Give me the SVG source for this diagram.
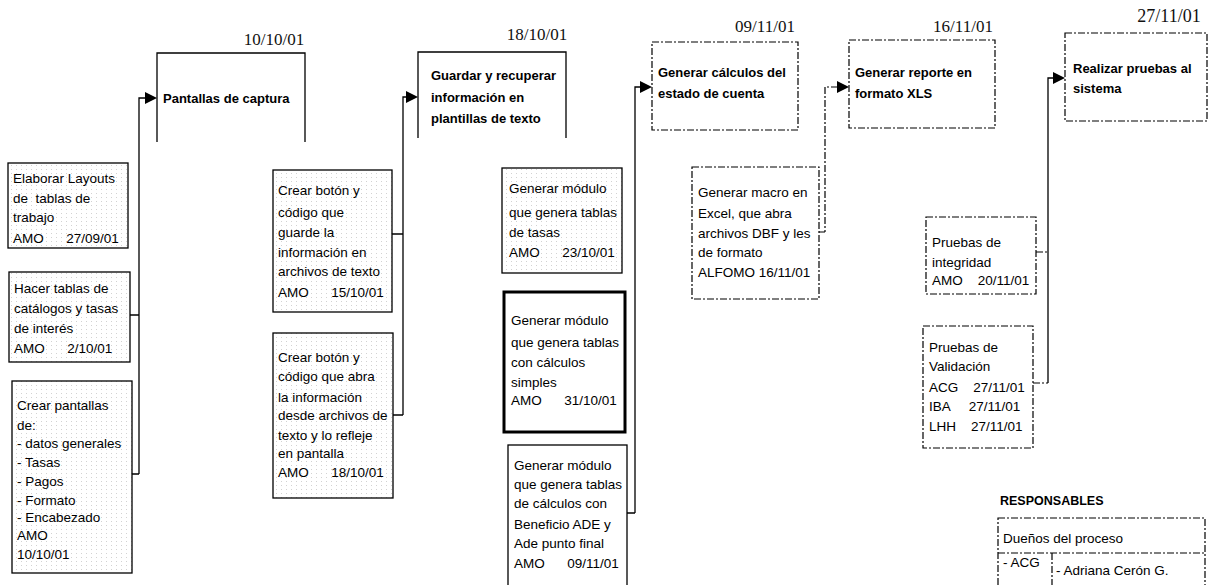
<svg xmlns="http://www.w3.org/2000/svg" width="1208" height="585" viewBox="0 0 1208 585">
<style>
  .date{font-family:"Liberation Serif","Times New Roman",serif;font-size:17px;fill:#111;text-anchor:middle}
  .title{font-family:"Liberation Sans",Arial,sans-serif;font-size:13px;font-weight:bold;fill:#000}
  .t{font-family:"Liberation Sans",Arial,sans-serif;font-size:13.5px;fill:#000}
  .bold{font-weight:bold}
  .solid{fill:none;stroke:#000;stroke-width:1.3}
  .dash{fill:none;stroke:#000;stroke-width:1.2;stroke-dasharray:7 2 2 2}
  .thick{fill:#fff;stroke:#000;stroke-width:3}
  .shade{fill:url(#dots);stroke:#000;stroke-width:1.3}
  .arrow{fill:#000}
</style>
<defs>
  <pattern id="dots" width="5" height="4" patternUnits="userSpaceOnUse">
    <rect width="5" height="4" fill="#fff"/>
    <rect x="1" y="1" width="1" height="1" fill="#d2d2d2"/>
  </pattern>
</defs>
<rect width="1208" height="585" fill="#fff"/>

<g id="connectors">
  <path class="solid" d="M146 98 H139 V474 M130 315 H139 M132 474 H139"/>
  <polygon class="arrow" points="145,92 157,98 145,104"/>
  <path class="solid" d="M407 97 H403 V415 M392 234 H403 M393 415 H403"/>
  <polygon class="arrow" points="406,91 418,97 406,103"/>
  <path class="solid" d="M641 87 H635 V513 M627 513 H635"/>
  <polygon class="arrow" points="640,81 652,87 640,93"/>
  <path class="dash" d="M838 87 H825 V232 M819 232 H825"/>
  <polygon class="arrow" points="837,81 849,87 837,93"/>
  <path class="solid" d="M1054 78 H1048 V383"/>
  <path class="dash" d="M1033 383 H1048 M1036 252 H1048"/>
  <polygon class="arrow" points="1053,72 1065,78 1053,84"/>
</g>

<g id="h1">
  <text class="date" x="274" y="45">10/10/01</text>
  <path class="solid" d="M157 142 V53 H305 V142"/>
  <text class="title" x="163" y="103">Pantallas de captura</text>
</g>
<g id="h2">
  <text class="date" x="537" y="40">18/10/01</text>
  <path class="solid" d="M418 138 V52 H566 V138"/>
  <text class="title" x="431" y="80">Guardar y recuperar</text>
  <text class="title" x="431" y="102">información  en</text>
  <text class="title" x="431" y="123">plantillas de texto</text>
</g>
<g id="h3">
  <text class="date" x="765" y="32">09/11/01</text>
  <rect class="dash" x="652" y="42" width="146" height="88"/>
  <text class="title" x="658" y="77">Generar cálculos del</text>
  <text class="title" x="658" y="98">estado de cuenta</text>
</g>
<g id="h4">
  <text class="date" x="963" y="32">16/11/01</text>
  <rect class="dash" x="849" y="40" width="146" height="88"/>
  <text class="title" x="855" y="77">Generar reporte en</text>
  <text class="title" x="855" y="98">formato XLS</text>
</g>
<g id="h5">
  <text class="date" x="1169" y="22" style="font-size:18px">27/11/01</text>
  <rect class="dash" x="1065" y="33" width="142" height="88"/>
  <text class="title" x="1073" y="73">Realizar pruebas al</text>
  <text class="title" x="1073" y="93">sistema</text>
</g>

<g id="n1a">
  <rect class="shade" x="8" y="163" width="120" height="85"/>
  <text class="t" x="13" y="183">Elaborar Layouts</text>
  <text class="t" x="13" y="203" xml:space="preserve">de  tablas de</text>
  <text class="t" x="13" y="222">trabajo</text>
  <text class="t" x="13" y="243" xml:space="preserve">AMO      27/09/01</text>
</g>
<g id="n1b">
  <rect class="shade" x="9" y="272" width="121" height="90"/>
  <text class="t" x="14" y="293">Hacer tablas de</text>
  <text class="t" x="14" y="313">catálogos y tasas</text>
  <text class="t" x="14" y="333">de interés</text>
  <text class="t" x="14" y="353" xml:space="preserve">AMO      2/10/01</text>
</g>
<g id="n1c">
  <rect class="shade" x="12" y="381" width="120" height="192"/>
  <text class="t" x="17" y="410">Crear pantallas</text>
  <text class="t" x="17" y="430">de:</text>
  <text class="t" x="17" y="448">- datos generales</text>
  <text class="t" x="17" y="467">- Tasas</text>
  <text class="t" x="17" y="486">- Pagos</text>
  <text class="t" x="17" y="505">- Formato</text>
  <text class="t" x="17" y="522">- Encabezado</text>
  <text class="t" x="17" y="540">AMO</text>
  <text class="t" x="17" y="559">10/10/01</text>
</g>

<g id="n2a">
  <rect class="shade" x="273" y="170" width="119" height="142"/>
  <text class="t" x="278" y="195">Crear botón y</text>
  <text class="t" x="278" y="217">código que</text>
  <text class="t" x="278" y="237">guarde la</text>
  <text class="t" x="278" y="257">información en</text>
  <text class="t" x="278" y="276">archivos de texto</text>
  <text class="t" x="278" y="297" xml:space="preserve">AMO      15/10/01</text>
</g>
<g id="n2b">
  <rect class="shade" x="273" y="333" width="120" height="165"/>
  <text class="t" x="278" y="362">Crear botón y</text>
  <text class="t" x="278" y="381">código que abra</text>
  <text class="t" x="278" y="402">la información</text>
  <text class="t" x="278" y="420">desde archivos de</text>
  <text class="t" x="278" y="440">texto y lo refleje</text>
  <text class="t" x="278" y="458">en pantalla</text>
  <text class="t" x="278" y="477" xml:space="preserve">AMO      18/10/01</text>
</g>

<g id="n3a">
  <rect class="shade" x="502" y="168" width="120" height="105"/>
  <text class="t" x="509" y="193">Generar módulo</text>
  <text class="t" x="509" y="217">que genera tablas</text>
  <text class="t" x="509" y="237">de tasas</text>
  <text class="t" x="509" y="257" xml:space="preserve">AMO      23/10/01</text>
</g>
<g id="n3b">
  <rect class="thick" x="504" y="292" width="121" height="140"/>
  <text class="t" x="511" y="325">Generar módulo</text>
  <text class="t" x="511" y="347">que genera tablas</text>
  <text class="t" x="511" y="367">con cálculos</text>
  <text class="t" x="511" y="387">simples</text>
  <text class="t" x="511" y="405" xml:space="preserve">AMO      31/10/01</text>
</g>
<g id="n3c">
  <rect class="solid" x="508" y="445" width="119" height="150"/>
  <text class="t" x="514" y="470">Generar módulo</text>
  <text class="t" x="514" y="489">que genera tablas</text>
  <text class="t" x="514" y="508">de cálculos con</text>
  <text class="t" x="514" y="529">Beneficio ADE y</text>
  <text class="t" x="514" y="548">Ade punto final</text>
  <text class="t" x="514" y="568" xml:space="preserve">AMO      09/11/01</text>
</g>

<g id="n4a">
  <rect class="dash" x="692" y="167" width="127" height="132"/>
  <text class="t" x="698" y="197">Generar macro en</text>
  <text class="t" x="698" y="218">Excel, que abra</text>
  <text class="t" x="698" y="238">archivos DBF y les</text>
  <text class="t" x="698" y="257">de formato</text>
  <text class="t" x="698" y="277">ALFOMO 16/11/01</text>
</g>

<g id="n5a">
  <rect class="dash" x="926" y="217" width="110" height="77"/>
  <text class="t" x="932" y="247">Pruebas de</text>
  <text class="t" x="932" y="267">integridad</text>
  <text class="t" x="932" y="285" xml:space="preserve">AMO    20/11/01</text>
</g>
<g id="n5b">
  <rect class="dash" x="923" y="326" width="110" height="122"/>
  <text class="t" x="929" y="352">Pruebas de</text>
  <text class="t" x="929" y="371">Validación</text>
  <text class="t" x="929" y="392" xml:space="preserve">ACG    27/11/01</text>
  <text class="t" x="929" y="411" xml:space="preserve">IBA     27/11/01</text>
  <text class="t" x="929" y="431" xml:space="preserve">LHH    27/11/01</text>
</g>

<g id="responsables">
  <text class="t bold" x="1000" y="505" style="font-size:12.5px">RESPONSABLES</text>
  <rect class="dash" x="998" y="518" width="207" height="80"/>
  <text class="t" x="1003" y="543">Dueños del proceso</text>
  <path class="dash" d="M998 553 H1205 M1052 553 V585"/>
  <text class="t" x="1003" y="567">- ACG</text>
  <text class="t" x="1056" y="575">- Adriana Cerón G.</text>
</g>
</svg>
